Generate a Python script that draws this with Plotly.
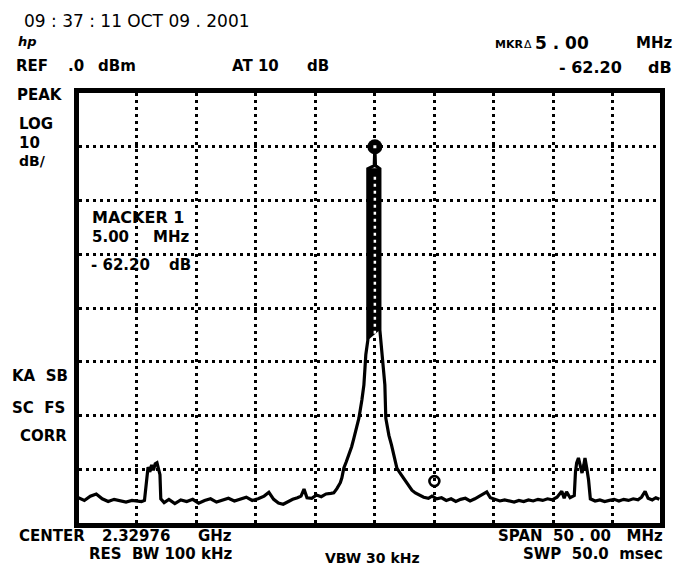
import plotly.graph_objects as go

# ---------------- data (frequency offset from centre in MHz, level in dBm) ----------------
freq_offset_mhz = [
    -24.9, -24.4, -23.9, -23.4, -22.9, -22.4, -21.9, -21.4, -20.9, -20.4, -19.9, -19.6,
    -19.35, -19.25, -19.15, -19.05, -18.9, -18.75, -18.6, -18.45, -18.3, -18.15, -18.05, -17.98,
    -17.7, -17.3, -16.8, -16.3, -15.8, -15.3, -14.8, -14.3, -13.8, -13.3, -12.8, -12.3,
    -11.8, -11.3, -10.8, -10.3, -9.8, -9.3, -8.9, -8.5, -8.1, -7.7, -7.3, -6.9, -6.5,
    -6.2, -5.95, -5.7, -5.3, -4.9, -4.5, -4.1, -3.7, -3.45, -3.19, -2.9, -2.77, -2.61,
    -2.4, -2.18, -1.95, -1.76, -1.55, -1.34, -1.09, -0.92, -0.84, -0.76, -0.59,
    -0.59, -0.05, 0.0, 0.05, 0.42,
    0.42, 0.59, 0.76, 0.84, 0.92, 1.18, 1.40, 1.60, 1.85, 2.15, 2.44, 2.8, 3.11, 3.4,
    3.7, 4.1, 4.5, 4.8, 5.2, 5.6, 6.0, 6.4, 6.8, 7.2, 7.6, 8.0, 8.4, 8.8, 9.2, 9.4,
    9.7, 10.1, 10.5, 10.9, 11.3, 11.7, 12.1, 12.5, 12.9, 13.3, 13.7, 14.1, 14.5, 14.9,
    15.3, 15.7, 15.9, 16.1, 16.4, 16.75, 16.85, 16.95, 17.1, 17.25, 17.4, 17.55, 17.65,
    17.8, 17.95, 18.1, 18.5, 18.9, 19.3, 19.7, 20.1, 20.5, 20.9, 21.3, 21.7, 22.1, 22.4,
    22.7, 22.95, 23.3, 23.6, 23.9,
]
trace_dbm = [
    -75.3, -75.8, -75.0, -74.6, -75.5, -76.0, -75.6, -75.9, -76.1, -75.8, -75.9, -76.0,
    -75.8, -73.8, -71.0, -69.6, -70.5, -69.2, -70.2, -69.0, -68.8, -70.0, -71.0, -75.5,
    -76.2, -75.6, -76.4, -75.7, -76.0, -75.6, -76.3, -75.8, -75.5, -76.1, -75.7, -75.4,
    -75.9, -75.6, -75.2, -75.8, -75.5, -75.0, -74.3, -75.6, -76.3, -76.5, -76.0, -75.6, -75.3,
    -75.0, -73.7, -75.3, -75.4, -74.8, -75.1, -74.6, -74.5, -74.4, -73.6, -72.5, -71.6, -69.8,
    -68.6, -67.3, -65.8, -64.2, -62.3, -60.5, -57.1, -54.3, -51.5, -48.7, -46.0,
    -14.1, -13.5, -10.0, -13.5, -14.1,
    -44.1, -48.7, -51.5, -54.3, -60.5, -63.7, -65.5, -67.3, -69.8, -70.8, -71.8, -72.8, -73.9, -74.4,
    -74.8, -75.2, -75.4, -75.0, -75.5, -75.3, -75.8, -75.5, -76.0, -75.6, -75.4, -75.9, -75.5, -75.0, -74.6, -74.2,
    -75.3, -75.6, -75.9, -75.7, -75.9, -76.1, -75.8, -76.0, -75.7, -75.9, -75.6, -75.8, -75.5, -75.7,
    -75.2, -74.1, -75.4, -74.2, -75.3, -74.9, -70.5, -68.8, -67.9, -69.5, -70.7, -69.2, -67.9,
    -69.8, -72.0, -75.5, -75.9, -75.7, -76.0, -75.8, -75.6, -75.9, -75.6, -75.8, -75.5, -75.7, -75.2,
    -74.1, -75.4, -75.7, -75.3, -75.6,
]
# solid body of the carrier between its skirts
column_freq = [-0.59, -0.59, 0.42, 0.42]
column_dbm = [-46.0, -14.1, -14.1, -44.1]
# markers: reference marker on the carrier and delta marker 5 MHz away
marker_freq = [0.0, 5.0]
marker_dbm = [-10.0, -72.2]

REF_LEVEL = 0       # dBm
DB_PER_DIV = 10
N_DIV_Y = 8
MHZ_PER_DIV = 5

# ---------------- figure ----------------
W, H = 678, 567
L, R, T, B = 79, 18, 93, 44
PW, PH = W - L - R, H - T - B

fig = go.Figure()

fig.add_trace(go.Scatter(x=column_freq, y=column_dbm, mode="lines", fill="toself",
                         fillcolor="black", line=dict(color="black", width=1),
                         hoverinfo="skip", showlegend=False))
fig.add_trace(go.Scatter(x=freq_offset_mhz, y=trace_dbm, mode="lines",
                         line=dict(color="black", width=3.2), showlegend=False))
# white dots where the centre graticule line crosses the solid carrier body
fig.add_trace(go.Scatter(x=[marker_freq[0], marker_freq[0]], y=[column_dbm[1] - 1.5, column_dbm[0] + 1],
                         mode="lines", line=dict(color="white", width=2.5, dash="3px,4px"),
                         hoverinfo="skip", showlegend=False))
fig.add_trace(go.Scatter(x=[marker_freq[0]], y=[marker_dbm[0]], mode="markers",
                         marker=dict(symbol="circle", size=15, color="black"), showlegend=False))
fig.add_trace(go.Scatter(x=[marker_freq[0]], y=[marker_dbm[0]], mode="markers",
                         marker=dict(symbol="square", size=3, color="white"), showlegend=False))
fig.add_trace(go.Scatter(x=[marker_freq[1]], y=[marker_dbm[1]], mode="markers",
                         marker=dict(symbol="circle-open", size=10, color="black",
                                     line=dict(width=2.6, color="black")), showlegend=False))

axis_common = dict(showline=True, mirror=True, linewidth=5, linecolor="black",
                   showgrid=True, gridcolor="black", gridwidth=3, griddash="3px,4px",
                   zeroline=False, showticklabels=False, ticks="", fixedrange=True)
fig.update_xaxes(range=[-24.85, 23.95], dtick=MHZ_PER_DIV, tick0=0, **axis_common)
fig.update_yaxes(range=[REF_LEVEL - N_DIV_Y * DB_PER_DIV, REF_LEVEL], dtick=DB_PER_DIV, tick0=0,
                 **axis_common)

def px(x, y):
    return (x - L) / PW, (H - B - y) / PH

FONT = "DejaVu Sans"
texts = [
    # text, x px, y px, anchor, size, bold
    ("09 : 37 : 11 OCT 09 . 2001", 22, 21, "left", 17, False),
    ("<i>hp</i>", 16, 42, "left", 13, True),
    ("REF", 14, 66, "left", 15, True),
    (".0", 66, 66, "left", 15, True),
    ("dBm", 96, 66, "left", 15, True),
    ("AT 10", 230, 66, "left", 15, True),
    ("dB", 331, 66, "right", 15, True),
    ("MKR", 493, 44, "left", 11, True),
    ("\u0394", 522, 45, "left", 11, False),
    ("5 . 00", 533, 43, "left", 17, True),
    ("MHz", 674, 43, "right", 15, True),
    ("- 62.20", 557, 67, "left", 16, True),
    ("dB", 674, 67, "right", 16, True),
    ("PEAK", 15, 95, "left", 15, True),
    ("LOG", 17, 124, "left", 15, True),
    ("10", 17, 143, "left", 15, True),
    ("dB/", 17, 161, "left", 14, True),
    ("KA\u00a0\u00a0SB", 10, 376, "left", 15, True),
    ("SC\u00a0\u00a0FS", 10, 408, "left", 15, True),
    ("CORR", 18, 436, "left", 15, True),
    ("MACKER 1", 90, 217, "left", 16, True),
    ("5.00", 90, 237, "left", 15, True),
    ("MHz", 191, 237, "right", 15, True),
    ("- 62.20", 89, 265, "left", 15, True),
    ("dB", 193, 265, "right", 15, True),
    ("CENTER", 17, 536, "left", 15, True),
    ("2.32976", 100, 536, "left", 15, True),
    ("GHz", 234, 536, "right", 15, True),
    ("RES\u00a0\u00a0BW 100 kHz", 234, 554, "right", 15, True),
    ("VBW 30 kHz", 323, 558, "left", 14, True),
    ("SPAN\u00a0\u00a050 . 00\u00a0\u00a0\u00a0MHz", 665, 536, "right", 15, True),
    ("SWP\u00a0\u00a050.0\u00a0\u00a0msec", 665, 554, "right", 15, True),
]
for t, x, y, anc, size, bold in texts:
    xp, yp = px(x, y)
    fig.add_annotation(text=t, x=xp, y=yp, xref="paper", yref="paper", xanchor=anc,
                       yanchor="middle", showarrow=False,
                       font=dict(family=FONT, size=size, color="black",
                                 weight="bold" if bold else "normal"))

fig.update_layout(width=W, height=H, margin=dict(l=L, r=R, t=T, b=B, pad=0),
                  paper_bgcolor="white", plot_bgcolor="white", showlegend=False)

# remove the page's default body margin so the figure sits at the window origin
fig.write_html("out.html", config={"displayModeBar": False},
               post_script="document.body.style.margin='0';")
